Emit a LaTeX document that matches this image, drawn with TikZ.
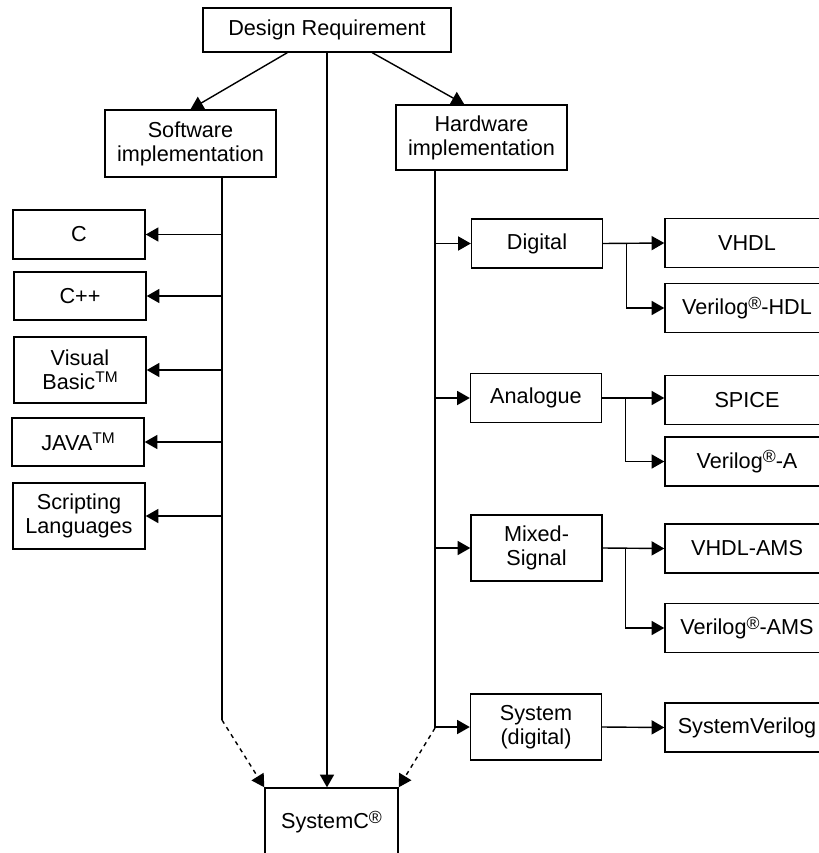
\documentclass[tikz,border=0pt]{standalone}
\usepackage{fontspec}
\setmainfont{Liberation Sans}
\usetikzlibrary{arrows.meta,calc}
\newcommand{\reg}{\raisebox{0.5ex}{\fontsize{12.5}{12.5}\selectfont ®}}
\newcommand{\tm}{\raisebox{0.6ex}{\fontsize{11}{11}\selectfont TM}}
\begin{document}
\begin{tikzpicture}[x=0.025cm,y=-0.025cm,line width=1pt,
		box/.style={draw,align=center,inner sep=0pt,font=\fontsize{15.4}{17}\selectfont},
		lang/.style={box,minimum width=3.3cm},
		kind/.style={box,minimum width=3.275cm},
		hdl/.style={box,minimum width=4.1cm,minimum height=1.225cm},
		arr/.style={-{Triangle[length=9pt,width=10pt]}}]
	\clip (0,0) rectangle (819,853);
	\node[box,minimum width=6.2cm,minimum height=1.1cm] (req) at (327,30) {Design Requirement};
	\node[box,minimum width=4.275cm,minimum height=1.675cm] (sw) at (190.5,143.5) {Software\\implementation};
	\node[box,minimum width=4.275cm,minimum height=1.625cm] (hw) at (481.5,137.5) {Hardware\\implementation};
	\node[box,minimum width=3.325cm,minimum height=1.7cm] (sysc) at (331.5,822) {SystemC\reg};
	% software languages
	\node[lang,minimum height=1.225cm] (c) at (79,234.5) {C};
	\node[lang,minimum height=1.2cm] (cpp) at (80,296) {C++};
	\node[lang,minimum height=1.65cm] (vb) at (80,370) {Visual\\Basic\tm};
	\node[lang,minimum height=1.2cm] (java) at (78,442) {JAVA\tm};
	\node[lang,minimum height=1.65cm] (script) at (79,516) {Scripting\\Languages};
	% hardware kinds
	\node[kind,minimum height=1.225cm] (dig) at (537,243.5) {Digital};
	\node[kind,minimum height=1.225cm] (ana) at (536,398) {Analogue};
	\node[kind,minimum height=1.65cm] (mix) at (536.5,548) {Mixed-\\Signal};
	\node[kind,minimum height=1.65cm] (sys) at (536,727) {System\\(digital)};
	% description languages
	\node[hdl] (vhdl) at (747,243) {VHDL};
	\node[hdl] (vlog) at (747,308) {Verilog\reg-HDL};
	\node[hdl] (spice) at (747,400) {SPICE};
	\node[hdl] (vloga) at (747,461.5) {Verilog\reg-A};
	\node[hdl] (vams) at (747,548.5) {VHDL-AMS};
	\node[hdl] (vlogams) at (747,628) {Verilog\reg-AMS};
	\node[hdl] (sv) at (747,727.5) {SystemVerilog};

	\coordinate (swend) at (222,720);
	\coordinate (hwend) at (435,728);

	\draw[arr] ($(req.south west)+(85,0)$) -- (sw.north);
	\draw[arr] ($(req.south west)+(170,0)$) -- ($(hw.north west)+(69,0)$);
	\draw[arr] (req.south) -- (req.south |- sysc.north);

	\draw (sw.south -| swend) -- (swend);
	\draw[arr,dashed] (swend) -- (sysc.north west);
	\foreach \n in {c,cpp,vb,java,script}
		\draw[arr] (\n.east -| swend) -- (\n.east);

	\draw (hw.south -| hwend) -- (hwend);
	\draw[arr,dashed] (hwend) -- (sysc.north east);
	\foreach \n in {dig,ana,mix,sys}
		\draw[arr] (\n.west -| hwend) -- (\n.west);

	\draw[arr] (dig.east) -- (vhdl.west);
	\draw[arr] ($(dig.east)+(23,0)$) |- (vlog.west);
	\draw[arr] (ana.east) -- (ana.east -| spice.west);
	\draw[arr] ($(ana.east)+(23,0)$) |- (vloga.west);
	\draw[arr] (mix.east) -- (vams.west);
	\draw[arr] ($(mix.east)+(23,0)$) |- (vlogams.west);
	\draw[arr] (sys.east) -- (sv.west);
\end{tikzpicture}
\end{document}
